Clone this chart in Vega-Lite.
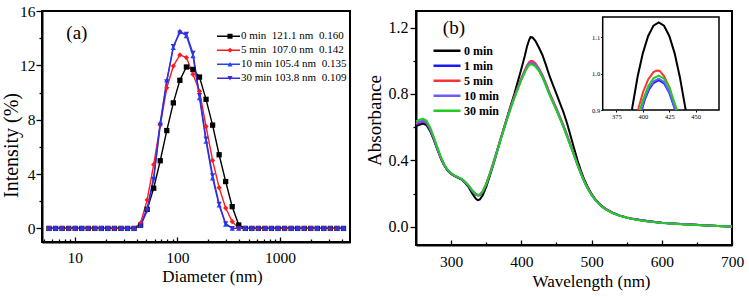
{
  "$schema": "https://vega.github.io/schema/vega-lite/v6.json",
  "padding": {"left": 0, "top": 3, "right": 0, "bottom": 0},
  "spacing": 13,
  "resolve": {"scale": {"color": "independent", "stroke": "independent", "shape": "independent"}, "legend": {"color": "independent", "stroke": "independent", "shape": "independent"}},
  "config": {
    "font": "Liberation Serif",
    "view": {"stroke": "black", "strokeWidth": 2},
    "axis": {"grid": false, "domainColor": "black", "domainWidth": 2, "tickColor": "black", "tickWidth": 1.3, "labelColor": "black", "titleColor": "black", "labelFont": "Liberation Serif", "titleFont": "Liberation Serif", "titleFontWeight": "normal", "labelFontSize": 15.5, "labelFlush": false, "labelOverlap": false}
  },
  "datasets": {
    "dls": [
      {"d": 5.615, "0 min": 0, "5 min": 0, "10 min": 0, "30 min": 0},
      {"d": 6.503, "0 min": 0, "5 min": 0, "10 min": 0, "30 min": 0},
      {"d": 7.531, "0 min": 0, "5 min": 0, "10 min": 0, "30 min": 0},
      {"d": 8.721, "0 min": 0, "5 min": 0, "10 min": 0, "30 min": 0},
      {"d": 10.1, "0 min": 0, "5 min": 0, "10 min": 0, "30 min": 0},
      {"d": 11.7, "0 min": 0, "5 min": 0, "10 min": 0, "30 min": 0},
      {"d": 13.54, "0 min": 0, "5 min": 0, "10 min": 0, "30 min": 0},
      {"d": 15.69, "0 min": 0, "5 min": 0, "10 min": 0, "30 min": 0},
      {"d": 18.17, "0 min": 0, "5 min": 0, "10 min": 0, "30 min": 0},
      {"d": 21.04, "0 min": 0, "5 min": 0, "10 min": 0, "30 min": 0},
      {"d": 24.36, "0 min": 0, "5 min": 0, "10 min": 0, "30 min": 0},
      {"d": 28.21, "0 min": 0, "5 min": 0, "10 min": 0, "30 min": 0},
      {"d": 32.67, "0 min": 0, "5 min": 0, "10 min": 0, "30 min": 0},
      {"d": 37.84, "0 min": 0, "5 min": 0, "10 min": 0, "30 min": 0},
      {"d": 43.82, "0 min": 0.24, "5 min": 0.4, "10 min": 0.25, "30 min": 0.2},
      {"d": 50.75, "0 min": 1.4, "5 min": 2.1, "10 min": 1.5, "30 min": 1.3},
      {"d": 58.77, "0 min": 2.96, "5 min": 4.7, "10 min": 3.8, "30 min": 3.6},
      {"d": 68.06, "0 min": 4.98, "5 min": 7.6, "10 min": 7.8, "30 min": 7.6},
      {"d": 78.82, "0 min": 7.2, "5 min": 10.35, "10 min": 10.9, "30 min": 10.8},
      {"d": 91.28, "0 min": 9.24, "5 min": 11.95, "10 min": 13.3, "30 min": 13.4},
      {"d": 105.7, "0 min": 10.9, "5 min": 12.77, "10 min": 14.54, "30 min": 14.4},
      {"d": 122.4, "0 min": 11.88, "5 min": 12.57, "10 min": 14.17, "30 min": 14.3},
      {"d": 141.8, "0 min": 11.7, "5 min": 11.34, "10 min": 12.7, "30 min": 12.9},
      {"d": 164.2, "0 min": 11.14, "5 min": 10.1, "10 min": 9.6, "30 min": 9.8},
      {"d": 190.1, "0 min": 9.5, "5 min": 7.5, "10 min": 6.4, "30 min": 6.6},
      {"d": 220.2, "0 min": 7.6, "5 min": 5.0, "10 min": 3.7, "30 min": 3.9},
      {"d": 255.0, "0 min": 5.42, "5 min": 3.0, "10 min": 1.7, "30 min": 1.8},
      {"d": 295.3, "0 min": 3.45, "5 min": 1.5, "10 min": 0.3, "30 min": 0.35},
      {"d": 342.0, "0 min": 1.6, "5 min": 0.5, "10 min": 0, "30 min": 0},
      {"d": 396.1, "0 min": 0.25, "5 min": 0, "10 min": 0, "30 min": 0},
      {"d": 458.7, "0 min": 0, "5 min": 0, "10 min": 0, "30 min": 0},
      {"d": 531.2, "0 min": 0, "5 min": 0, "10 min": 0, "30 min": 0},
      {"d": 615.1, "0 min": 0, "5 min": 0, "10 min": 0, "30 min": 0},
      {"d": 712.4, "0 min": 0, "5 min": 0, "10 min": 0, "30 min": 0},
      {"d": 825.0, "0 min": 0, "5 min": 0, "10 min": 0, "30 min": 0},
      {"d": 955.4, "0 min": 0, "5 min": 0, "10 min": 0, "30 min": 0},
      {"d": 1106, "0 min": 0, "5 min": 0, "10 min": 0, "30 min": 0},
      {"d": 1281, "0 min": 0, "5 min": 0, "10 min": 0, "30 min": 0},
      {"d": 1484, "0 min": 0, "5 min": 0, "10 min": 0, "30 min": 0},
      {"d": 1718, "0 min": 0, "5 min": 0, "10 min": 0, "30 min": 0},
      {"d": 1990, "0 min": 0, "5 min": 0, "10 min": 0, "30 min": 0},
      {"d": 2305, "0 min": 0, "5 min": 0, "10 min": 0, "30 min": 0},
      {"d": 2669, "0 min": 0, "5 min": 0, "10 min": 0, "30 min": 0},
      {"d": 3091, "0 min": 0, "5 min": 0, "10 min": 0, "30 min": 0},
      {"d": 3580, "0 min": 0, "5 min": 0, "10 min": 0, "30 min": 0},
      {"d": 4145, "0 min": 0, "5 min": 0, "10 min": 0, "30 min": 0}
    ],
    "uv": [
      {"w": 250, "0 min": 0.605, "1 min": 0.615, "5 min": 0.62, "10 min": 0.625, "30 min": 0.635},
      {"w": 255, "0 min": 0.615, "1 min": 0.625, "5 min": 0.63, "10 min": 0.635, "30 min": 0.645},
      {"w": 260, "0 min": 0.622, "1 min": 0.632, "5 min": 0.636, "10 min": 0.64, "30 min": 0.65},
      {"w": 265, "0 min": 0.612, "1 min": 0.622, "5 min": 0.626, "10 min": 0.63, "30 min": 0.64},
      {"w": 270, "0 min": 0.578, "1 min": 0.585, "5 min": 0.59, "10 min": 0.593, "30 min": 0.6},
      {"w": 275, "0 min": 0.528, "1 min": 0.533, "5 min": 0.537, "10 min": 0.54, "30 min": 0.545},
      {"w": 280, "0 min": 0.47, "1 min": 0.474, "5 min": 0.477, "10 min": 0.479, "30 min": 0.483},
      {"w": 285, "0 min": 0.415, "1 min": 0.418, "5 min": 0.42, "10 min": 0.422, "30 min": 0.425},
      {"w": 290, "0 min": 0.37, "1 min": 0.372, "5 min": 0.374, "10 min": 0.375, "30 min": 0.377},
      {"w": 295, "0 min": 0.338, "1 min": 0.34, "5 min": 0.341, "10 min": 0.342, "30 min": 0.344},
      {"w": 300, "0 min": 0.318, "1 min": 0.32, "5 min": 0.321, "10 min": 0.322, "30 min": 0.323},
      {"w": 305, "0 min": 0.305, "1 min": 0.306, "5 min": 0.307, "10 min": 0.308, "30 min": 0.309},
      {"w": 310, "0 min": 0.295, "1 min": 0.296, "5 min": 0.297, "10 min": 0.298, "30 min": 0.299},
      {"w": 315, "0 min": 0.284, "1 min": 0.285, "5 min": 0.287, "10 min": 0.287, "30 min": 0.288},
      {"w": 320, "0 min": 0.265, "1 min": 0.268, "5 min": 0.27, "10 min": 0.27, "30 min": 0.271},
      {"w": 325, "0 min": 0.238, "1 min": 0.245, "5 min": 0.248, "10 min": 0.247, "30 min": 0.248},
      {"w": 330, "0 min": 0.2, "1 min": 0.215, "5 min": 0.22, "10 min": 0.218, "30 min": 0.218},
      {"w": 335, "0 min": 0.17, "1 min": 0.193, "5 min": 0.198, "10 min": 0.196, "30 min": 0.196},
      {"w": 338, "0 min": 0.16, "1 min": 0.188, "5 min": 0.193, "10 min": 0.19, "30 min": 0.19},
      {"w": 341, "0 min": 0.165, "1 min": 0.19, "5 min": 0.195, "10 min": 0.192, "30 min": 0.192},
      {"w": 345, "0 min": 0.19, "1 min": 0.21, "5 min": 0.215, "10 min": 0.212, "30 min": 0.212},
      {"w": 350, "0 min": 0.24, "1 min": 0.255, "5 min": 0.26, "10 min": 0.257, "30 min": 0.257},
      {"w": 355, "0 min": 0.305, "1 min": 0.315, "5 min": 0.32, "10 min": 0.316, "30 min": 0.315},
      {"w": 360, "0 min": 0.372, "1 min": 0.38, "5 min": 0.385, "10 min": 0.38, "30 min": 0.378},
      {"w": 365, "0 min": 0.445, "1 min": 0.45, "5 min": 0.455, "10 min": 0.45, "30 min": 0.447},
      {"w": 370, "0 min": 0.52, "1 min": 0.52, "5 min": 0.525, "10 min": 0.52, "30 min": 0.517},
      {"w": 375, "0 min": 0.592, "1 min": 0.588, "5 min": 0.593, "10 min": 0.588, "30 min": 0.585},
      {"w": 380, "0 min": 0.662, "1 min": 0.655, "5 min": 0.66, "10 min": 0.655, "30 min": 0.65},
      {"w": 385, "0 min": 0.732, "1 min": 0.72, "5 min": 0.725, "10 min": 0.72, "30 min": 0.714},
      {"w": 390, "0 min": 0.8, "1 min": 0.78, "5 min": 0.785, "10 min": 0.78, "30 min": 0.774},
      {"w": 395, "0 min": 0.875, "1 min": 0.835, "5 min": 0.842, "10 min": 0.836, "30 min": 0.83},
      {"w": 400, "0 min": 0.95, "1 min": 0.888, "5 min": 0.895, "10 min": 0.89, "30 min": 0.883},
      {"w": 405, "0 min": 1.03, "1 min": 0.935, "5 min": 0.945, "10 min": 0.938, "30 min": 0.93},
      {"w": 408, "0 min": 1.085, "1 min": 0.96, "5 min": 0.972, "10 min": 0.964, "30 min": 0.956},
      {"w": 411, "0 min": 1.125, "1 min": 0.978, "5 min": 0.992, "10 min": 0.982, "30 min": 0.973},
      {"w": 413, "0 min": 1.142, "1 min": 0.983, "5 min": 0.998, "10 min": 0.987, "30 min": 0.978},
      {"w": 416, "0 min": 1.14, "1 min": 0.982, "5 min": 0.998, "10 min": 0.986, "30 min": 0.977},
      {"w": 420, "0 min": 1.12, "1 min": 0.97, "5 min": 0.985, "10 min": 0.974, "30 min": 0.965},
      {"w": 425, "0 min": 1.08, "1 min": 0.945, "5 min": 0.955, "10 min": 0.948, "30 min": 0.94},
      {"w": 430, "0 min": 1.035, "1 min": 0.905, "5 min": 0.915, "10 min": 0.908, "30 min": 0.9},
      {"w": 435, "0 min": 0.975, "1 min": 0.855, "5 min": 0.865, "10 min": 0.858, "30 min": 0.85},
      {"w": 440, "0 min": 0.91, "1 min": 0.8, "5 min": 0.81, "10 min": 0.803, "30 min": 0.796},
      {"w": 445, "0 min": 0.855, "1 min": 0.752, "5 min": 0.762, "10 min": 0.755, "30 min": 0.748},
      {"w": 450, "0 min": 0.8, "1 min": 0.705, "5 min": 0.715, "10 min": 0.708, "30 min": 0.701},
      {"w": 455, "0 min": 0.745, "1 min": 0.655, "5 min": 0.664, "10 min": 0.658, "30 min": 0.651},
      {"w": 460, "0 min": 0.69, "1 min": 0.603, "5 min": 0.612, "10 min": 0.606, "30 min": 0.6},
      {"w": 465, "0 min": 0.625, "1 min": 0.548, "5 min": 0.556, "10 min": 0.55, "30 min": 0.545},
      {"w": 470, "0 min": 0.55, "1 min": 0.49, "5 min": 0.497, "10 min": 0.492, "30 min": 0.487},
      {"w": 475, "0 min": 0.475, "1 min": 0.432, "5 min": 0.438, "10 min": 0.434, "30 min": 0.43},
      {"w": 480, "0 min": 0.4, "1 min": 0.373, "5 min": 0.378, "10 min": 0.375, "30 min": 0.371},
      {"w": 485, "0 min": 0.335, "1 min": 0.318, "5 min": 0.322, "10 min": 0.32, "30 min": 0.317},
      {"w": 490, "0 min": 0.28, "1 min": 0.268, "5 min": 0.272, "10 min": 0.27, "30 min": 0.267},
      {"w": 495, "0 min": 0.236, "1 min": 0.227, "5 min": 0.23, "10 min": 0.228, "30 min": 0.226},
      {"w": 500, "0 min": 0.198, "1 min": 0.192, "5 min": 0.194, "10 min": 0.193, "30 min": 0.191},
      {"w": 505, "0 min": 0.168, "1 min": 0.163, "5 min": 0.165, "10 min": 0.164, "30 min": 0.163},
      {"w": 510, "0 min": 0.143, "1 min": 0.14, "5 min": 0.141, "10 min": 0.14, "30 min": 0.139},
      {"w": 515, "0 min": 0.124, "1 min": 0.121, "5 min": 0.122, "10 min": 0.121, "30 min": 0.12},
      {"w": 520, "0 min": 0.108, "1 min": 0.106, "5 min": 0.107, "10 min": 0.106, "30 min": 0.105},
      {"w": 530, "0 min": 0.085, "1 min": 0.083, "5 min": 0.084, "10 min": 0.083, "30 min": 0.082},
      {"w": 540, "0 min": 0.068, "1 min": 0.067, "5 min": 0.067, "10 min": 0.067, "30 min": 0.066},
      {"w": 550, "0 min": 0.056, "1 min": 0.055, "5 min": 0.055, "10 min": 0.055, "30 min": 0.054},
      {"w": 560, "0 min": 0.047, "1 min": 0.046, "5 min": 0.046, "10 min": 0.046, "30 min": 0.045},
      {"w": 570, "0 min": 0.04, "1 min": 0.039, "5 min": 0.039, "10 min": 0.039, "30 min": 0.038},
      {"w": 580, "0 min": 0.034, "1 min": 0.033, "5 min": 0.033, "10 min": 0.033, "30 min": 0.032},
      {"w": 590, "0 min": 0.029, "1 min": 0.028, "5 min": 0.028, "10 min": 0.028, "30 min": 0.027},
      {"w": 600, "0 min": 0.024, "1 min": 0.024, "5 min": 0.024, "10 min": 0.024, "30 min": 0.023},
      {"w": 620, "0 min": 0.018, "1 min": 0.018, "5 min": 0.018, "10 min": 0.018, "30 min": 0.017},
      {"w": 640, "0 min": 0.013, "1 min": 0.013, "5 min": 0.013, "10 min": 0.013, "30 min": 0.012},
      {"w": 660, "0 min": 0.009, "1 min": 0.009, "5 min": 0.009, "10 min": 0.009, "30 min": 0.008},
      {"w": 680, "0 min": 0.005, "1 min": 0.005, "5 min": 0.005, "10 min": 0.005, "30 min": 0.005},
      {"w": 700, "0 min": 0.002, "1 min": 0.002, "5 min": 0.002, "10 min": 0.002, "30 min": 0.002}
    ],
    "inset": [
      {"s": "0 min", "w": 389.6, "v": 0.9},
      {"s": "0 min", "w": 395, "v": 0.991},
      {"s": "0 min", "w": 400, "v": 1.056},
      {"s": "0 min", "w": 405, "v": 1.103},
      {"s": "0 min", "w": 410, "v": 1.131},
      {"s": "0 min", "w": 415, "v": 1.14},
      {"s": "0 min", "w": 420, "v": 1.131},
      {"s": "0 min", "w": 425, "v": 1.103},
      {"s": "0 min", "w": 430, "v": 1.056},
      {"s": "0 min", "w": 435, "v": 0.99},
      {"s": "0 min", "w": 440.5, "v": 0.9},
      {"s": "1 min", "w": 399, "v": 0.9},
      {"s": "1 min", "w": 402, "v": 0.93},
      {"s": "1 min", "w": 406, "v": 0.957},
      {"s": "1 min", "w": 410, "v": 0.974},
      {"s": "1 min", "w": 415, "v": 0.982},
      {"s": "1 min", "w": 420, "v": 0.973},
      {"s": "1 min", "w": 425, "v": 0.947},
      {"s": "1 min", "w": 430.5, "v": 0.9},
      {"s": "5 min", "w": 395.4, "v": 0.9},
      {"s": "5 min", "w": 400, "v": 0.948},
      {"s": "5 min", "w": 405, "v": 0.984},
      {"s": "5 min", "w": 410, "v": 1.004},
      {"s": "5 min", "w": 413, "v": 1.008},
      {"s": "5 min", "w": 416, "v": 1.007},
      {"s": "5 min", "w": 420, "v": 0.993},
      {"s": "5 min", "w": 425, "v": 0.963},
      {"s": "5 min", "w": 431.3, "v": 0.9},
      {"s": "10 min", "w": 398.5, "v": 0.9},
      {"s": "10 min", "w": 402, "v": 0.935},
      {"s": "10 min", "w": 406, "v": 0.962},
      {"s": "10 min", "w": 410, "v": 0.978},
      {"s": "10 min", "w": 415, "v": 0.986},
      {"s": "10 min", "w": 420, "v": 0.977},
      {"s": "10 min", "w": 425, "v": 0.951},
      {"s": "10 min", "w": 431, "v": 0.9},
      {"s": "30 min", "w": 397.3, "v": 0.9},
      {"s": "30 min", "w": 400, "v": 0.927},
      {"s": "30 min", "w": 405, "v": 0.965},
      {"s": "30 min", "w": 410, "v": 0.987},
      {"s": "30 min", "w": 415, "v": 0.994},
      {"s": "30 min", "w": 420, "v": 0.986},
      {"s": "30 min", "w": 425, "v": 0.962},
      {"s": "30 min", "w": 432.3, "v": 0.9}
    ]
  },
  "hconcat": [
    {
      "width": 308,
      "height": 231,
      "layer": [
        {
          "data": {"name": "dls"},
          "transform": [{"fold": ["0 min", "5 min", "10 min", "30 min"], "as": ["s", "v"]}],
          "mark": {"type": "line", "strokeWidth": 1.4},
          "encoding": {
            "x": {"field": "d", "type": "quantitative", "scale": {"type": "log", "domain": [4.8, 4800], "nice": false},
                  "axis": {"orient": "bottom", "values": [10, 100, 1000], "format": "d", "ticks": false, "labelPadding": 8, "title": "Diameter (nm)", "titleFontSize": 17, "titlePadding": 3, "titleX": 170}},
            "y": {"field": "v", "type": "quantitative", "scale": {"domain": [-1, 16], "nice": false, "zero": false},
                  "axis": {"orient": "left", "values": [0, 4, 8, 12, 16], "tickSize": 6, "labelPadding": 1, "title": "Intensity (%)", "titleFontSize": 20, "titlePadding": -2, "titleY": 134}},
            "stroke": {"field": "s", "type": "nominal",
                       "scale": {"domain": ["0 min", "5 min", "10 min", "30 min"], "range": ["#000000", "#ff1a1a", "#2346f5", "#3a2bd8"]},
                       "legend": {"orient": "none", "legendX": 174, "legendY": 18.5, "title": null, "symbolType": "stroke", "symbolSize": 529, "symbolStrokeWidth": 1.4, "clipHeight": 13.5, "rowPadding": 0, "padding": 0, "labelFont": "Liberation Serif", "labelFontSize": 11, "labelColor": "black", "labelOffset": 0, "labelLimit": 200,
                                  "labelExpr": "datum.label == '0 min' ? '0 min\u00a0\u00a0121.1 nm\u00a0\u00a00.160' : datum.label == '5 min' ? '5 min\u00a0\u00a0107.0 nm\u00a0\u00a00.142' : datum.label == '10 min' ? '10 min 105.4 nm\u00a0\u00a00.135' : '30 min 103.8 nm\u00a0\u00a00.109'"}}
          }
        },
        {
          "data": {"name": "dls"},
          "transform": [{"fold": ["0 min", "5 min", "10 min", "30 min"], "as": ["s", "v"]}],
          "mark": {"type": "point", "filled": true, "size": 28, "opacity": 1},
          "encoding": {
            "x": {"field": "d", "type": "quantitative",
                  "axis": {"orient": "bottom", "values": [10, 100, 1000], "tickSize": -5, "labels": false, "domain": false, "title": null}},
            "y": {"field": "v", "type": "quantitative",
                  "axis": {"orient": "left", "values": [2, 6, 10, 14], "tickSize": 3, "labels": false, "domain": false, "title": null}},
            "color": {"field": "s", "type": "nominal",
                      "scale": {"domain": ["0 min", "5 min", "10 min", "30 min"], "range": ["#000000", "#ff1a1a", "#2346f5", "#3a2bd8"]},
                      "legend": {"orient": "none", "legendX": 182.5, "legendY": 18.5, "title": null, "values": ["0 min", "5 min", "10 min", "30 min"], "symbolSize": 26, "clipHeight": 13.5, "rowPadding": 0, "padding": 0, "labelExpr": "''", "labelFontSize": 11}},
            "shape": {"field": "s", "type": "nominal",
                      "scale": {"domain": ["0 min", "5 min", "10 min", "30 min"], "range": ["square", "diamond", "triangle-up", "triangle-down"]},
                      "legend": {"orient": "none", "legendX": 182.5, "legendY": 18.5, "title": null, "values": ["0 min", "5 min", "10 min", "30 min"], "symbolSize": 26, "clipHeight": 13.5, "rowPadding": 0, "padding": 0, "labelExpr": "''", "labelFontSize": 11}}
          }
        },
        {
          "data": {"values": [{}]},
          "mark": {"type": "text", "font": "Liberation Serif", "fontSize": 19, "color": "black"},
          "encoding": {
            "x": {"datum": 10.5, "type": "quantitative",
                  "axis": {"orient": "bottom", "values": [5, 6, 7, 8, 9, 20, 30, 40, 50, 60, 70, 80, 90, 200, 300, 400, 500, 600, 700, 800, 900, 2000, 3000, 4000], "tickSize": -3, "labels": false, "domain": false, "title": null}},
            "y": {"datum": 14.4, "type": "quantitative", "axis": null},
            "text": {"value": "(a)"}
          }
        }
      ],
      "resolve": {"axis": {"x": "independent", "y": "independent"}, "legend": {"stroke": "independent"}}
    },
    {
      "width": 316,
      "height": 234,
      "layer": [
        {
          "layer": [
            {
              "data": {"name": "uv"},
              "transform": [{"fold": ["0 min", "1 min", "5 min", "10 min", "30 min"], "as": ["s", "v"]}],
              "mark": {"type": "line", "strokeWidth": 2},
              "encoding": {
                "x": {"field": "w", "type": "quantitative", "scale": {"domain": [250, 700], "nice": false, "zero": false},
                      "axis": {"orient": "bottom", "values": [300, 400, 500, 600, 700], "ticks": false, "labelPadding": 9, "title": "Wavelength (nm)", "titleFontSize": 17, "titlePadding": 4, "titleX": 175}},
                "y": {"field": "v", "type": "quantitative", "scale": {"domain": [-0.11, 1.3], "nice": false, "zero": false},
                      "axis": {"orient": "left", "values": [0, 0.4, 0.8, 1.2], "format": ".1f", "tickSize": 6, "labelPadding": 2, "labelFontSize": 16, "title": "Absorbance", "titleFontSize": 19, "titlePadding": 4, "titleY": 109}},
                "color": {"field": "s", "type": "nominal",
                          "scale": {"domain": ["0 min", "1 min", "5 min", "10 min", "30 min"], "range": ["#000000", "#1a1aff", "#ff3333", "#6a5cff", "#22cc22"]},
                          "legend": {"orient": "none", "legendX": 16, "legendY": 32.5, "title": null, "symbolType": "stroke", "symbolSize": 729, "symbolStrokeWidth": 2.5, "clipHeight": 14.6, "rowPadding": 0, "padding": 0, "labelFont": "Liberation Serif", "labelFontSize": 12, "labelFontWeight": "bold", "labelColor": "black", "labelOffset": 2}}
              }
            },
            {
              "data": {"values": [{}]},
              "mark": {"type": "text", "font": "Liberation Serif", "fontSize": 19, "color": "black"},
              "encoding": {
                "x": {"datum": 304, "type": "quantitative",
                      "axis": {"orient": "bottom", "values": [300, 400, 500, 600, 700], "tickSize": -5, "labels": false, "domain": false, "title": null}},
                "y": {"datum": 1.2, "type": "quantitative",
                      "axis": {"orient": "left", "values": [0.2, 0.6, 1.0], "tickSize": 3, "labels": false, "domain": false, "title": null}},
                "text": {"value": "(b)"}
              }
            },
            {
              "data": {"values": [{}]},
              "mark": {"type": "rule", "opacity": 0},
              "encoding": {
                "x": {"datum": 350, "type": "quantitative",
                      "axis": {"orient": "bottom", "values": [350, 450, 550, 650], "tickSize": -3, "labels": false, "domain": false, "title": null}}
              }
            }
          ],
          "resolve": {"axis": {"x": "independent", "y": "independent"}}
        },
        {
          "layer": [
            {
              "data": {"values": [{}]},
              "mark": {"type": "rect", "fill": "white", "stroke": "black", "strokeWidth": 1.5},
              "encoding": {
                "x": {"datum": 362, "type": "quantitative", "scale": {"domain": [362, 472], "range": [186.7, 303], "nice": false, "zero": false},
                      "axis": {"orient": "bottom", "offset": -135, "values": [375, 400, 425, 450], "tickSize": 2, "tickWidth": 1, "labelPadding": 1, "labelFontSize": 6.5, "domain": false, "title": null}},
                "x2": {"datum": 472},
                "y": {"datum": 0.9, "type": "quantitative", "scale": {"domain": [0.9, 1.155], "range": [99, 6], "nice": false, "zero": false},
                      "axis": {"orient": "left", "offset": -186.7, "values": [0.9, 1.0, 1.1], "format": ".1f", "tickSize": 2, "tickWidth": 1, "labelPadding": 1, "labelFontSize": 6.5, "domain": false, "title": null}},
                "y2": {"datum": 1.155}
              }
            },
            {
              "data": {"name": "inset"},
              "mark": {"type": "line", "strokeWidth": 2},
              "encoding": {
                "x": {"field": "w", "type": "quantitative"},
                "y": {"field": "v", "type": "quantitative"},
                "color": {"field": "s", "type": "nominal",
                          "scale": {"domain": ["0 min", "1 min", "5 min", "10 min", "30 min"], "range": ["#000000", "#1a1aff", "#ff3333", "#6a5cff", "#22cc22"]}}
              }
            }
          ]
        }
      ],
      "resolve": {"scale": {"x": "independent", "y": "independent"}}
    }
  ]
}
